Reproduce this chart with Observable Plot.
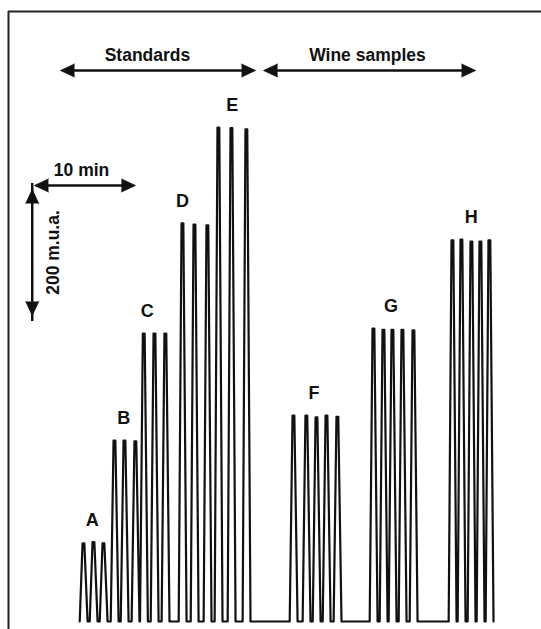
<!DOCTYPE html>
<html>
<head>
<meta charset="utf-8">
<script src="https://cdn.jsdelivr.net/npm/d3@7"></script>
<script src="https://cdn.jsdelivr.net/npm/@observablehq/plot@0.6"></script>
<style>
  html, body { margin: 0; padding: 0; background: #fff; }
  #chart svg { display: block; }
</style>
</head>
<body>
<div id="chart"></div>
<script>
// ---- data (time in min, signal in m.u.a.) ----
const peakGroup = ["A","A","A","B","B","B","C","C","C","D","D","D","E","E","E",
                   "F","F","F","F","F","G","G","G","G","G","H","H","H","H","H"];
const peakTime = [7.43, 8.42, 9.41, 10.50, 11.49, 12.57, 13.40, 14.46, 15.54,
                  17.23, 18.42, 19.70, 20.79, 22.08, 23.56,
                  28.22, 29.50, 30.50, 31.49, 32.57,
                  36.14, 37.13, 38.02, 39.01, 40.10,
                  43.96, 44.85, 45.84, 46.73, 47.62];
const peakHeight = [124, 126, 124, 287, 287, 286, 457, 457, 457,
                    632, 630, 629, 784, 783, 781,
                    327, 327, 324, 327, 325,
                    465, 463, 463, 463, 462,
                    605, 606, 603, 603, 605];
const labelGroup = ["A","B","C","D","E","F","G","H"];
const labelTime = [8.29, 11.42, 13.73, 17.23, 22.15, 30.25, 37.87, 45.82];
const sectionLabel = ["Standards", "Wine samples"];
const sectionStart = [5.15, 25.25];
const sectionEnd = [24.46, 46.24];
const sectionTextTime = [13.76, 35.54];
const timeBarLabel = "10 min";
const timeBarLength = 10;
const signalBarLabel = "200 m.u.a.";
const signalBarLength = 200;

// ---- layout (data units) ----
const xDomain = [0, 52.77];
const yDomain = [-12.7, 968.25];
const sectionArrowY = 874.6;
const sectionTextY = 899.2;
const timeBarStart = 2.57, timeBarY = 692.1, timeTextX = 7.23, timeTextY = 716.7;
const signalBarX = 2.35, signalBarBottom = 485.7, signalTextX = 4.46;
const labelGap = 35;
const font = "'Liberation Sans', Arial, Helvetica, sans-serif";

// ---- trace built from peaks ----
const trace = [];
peakTime.forEach((t, i) => {
  const h = peakHeight[i];
  trace.push({t: t - 0.38, v: 0}, {t: t - 0.1, v: h}, {t: t + 0.08, v: h}, {t: t + 0.4, v: 0});
});

const labels = labelGroup.map((g, i) => ({
  g, t: labelTime[i],
  v: d3.max(peakHeight.filter((_, j) => peakGroup[j] === g)) + labelGap
}));

const sections = sectionLabel.map((s, i) => ({s, a: sectionStart[i], b: sectionEnd[i], tx: sectionTextTime[i]}));

const hArrows = [
  ...sections.map(d => ({a: d.a, b: d.b, y: sectionArrowY})),
  {a: timeBarStart, b: timeBarStart + timeBarLength, y: timeBarY}
];
const heads = [];
hArrows.forEach(d => {
  heads.push({x: d.a, y: d.y, r: -90}, {x: d.b, y: d.y, r: 90});
});
heads.push({x: signalBarX, y: signalBarBottom + signalBarLength, r: 0},
           {x: signalBarX, y: signalBarBottom, r: 180});

const chart = Plot.plot({
  width: 541,
  height: 629,
  marginLeft: 8,
  marginRight: 0,
  marginTop: 11,
  marginBottom: 0,
  x: {domain: xDomain, axis: null},
  y: {domain: yDomain, axis: null},
  marks: [
    // frame (top & left)
    Plot.ruleY([yDomain[1]], {stroke: "#222", strokeWidth: 2}),
    Plot.ruleX([xDomain[0]], {stroke: "#222", strokeWidth: 2}),
    // signal trace
    Plot.line(trace, {x: "t", y: "v", stroke: "#111", strokeWidth: 2.2}),
    // peak group labels
    Plot.text(labels, {x: "t", y: "v", text: "g", fontSize: 18, fontWeight: "bold", fontFamily: font, fill: "#111"}),
    // section arrows and texts
    Plot.ruleY(hArrows, {x1: "a", x2: "b", y: "y", stroke: "#111", strokeWidth: 2.5, insetLeft: 6, insetRight: 6}),
    Plot.text(sections, {x: "tx", y: () => sectionTextY, text: "s", fontSize: 17.5, fontWeight: "bold", fontFamily: font, fill: "#111"}),
    // scale bars
    Plot.ruleX([0], {x: () => signalBarX, y1: () => signalBarBottom, y2: () => signalBarBottom + signalBarLength, stroke: "#111", strokeWidth: 2.5, insetTop: 6, insetBottom: 6}),
    Plot.vector(heads, {x: "x", y: "y", rotate: "r", length: 14, r: 6.5, shape: "spike", anchor: "end", fill: "#111", stroke: "#111", strokeWidth: 0.8}),
    Plot.text([timeBarLabel], {x: () => timeTextX, y: () => timeTextY, text: d => d, fontSize: 17.5, fontWeight: "bold", fontFamily: font, fill: "#111"}),
    Plot.text([signalBarLabel], {x: () => signalTextX, y: () => signalBarBottom + signalBarLength / 2, text: d => d, rotate: -90, fontSize: 17.5, fontWeight: "bold", fontFamily: font, fill: "#111"})
  ]
});
document.getElementById("chart").appendChild(chart);
</script>
</body>
</html>
